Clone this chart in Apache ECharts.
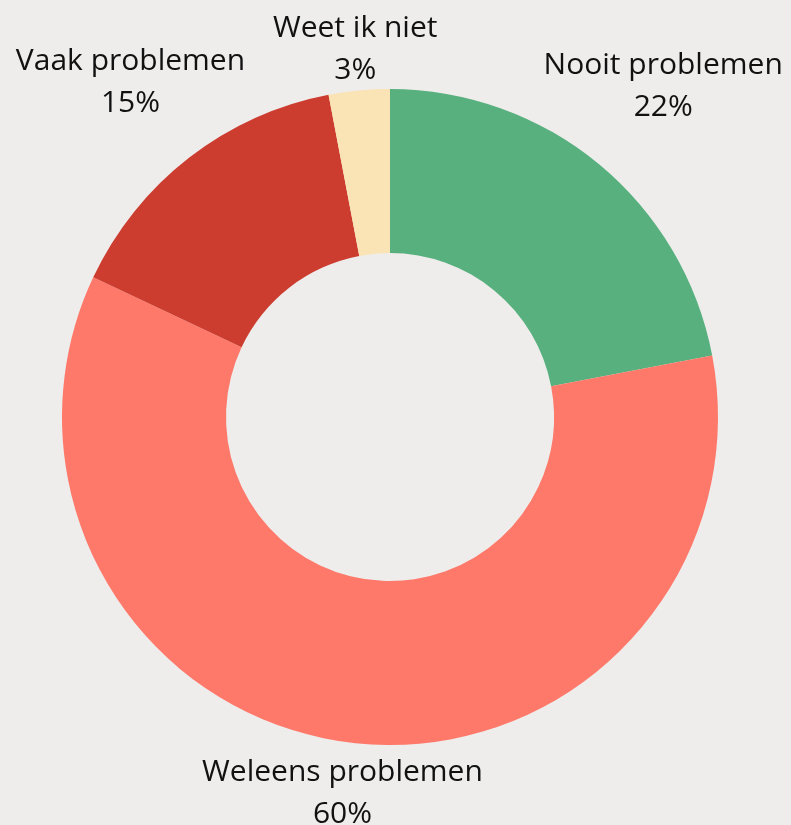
<!DOCTYPE html>
<html>
<head>
<meta charset="utf-8">
<script src="https://cdn.jsdelivr.net/npm/echarts@6/dist/echarts.min.js"></script>
<style>
  html, body { margin: 0; padding: 0; background: #eeedec; }
  #main { width: 791px; height: 825px; }
</style>
</head>
<body>
<div id="main"></div>
<script>
// antwoorden, met de klok mee vanaf boven
var categories = ['Nooit problemen', 'Weleens problemen', 'Vaak problemen', 'Weet ik niet'];
var percentages = [22, 60, 15, 3];
var colors = ['#58b07e', '#ff796a', '#cc3d2f', '#fae3b4'];

var cx = 390, cy = 417, rOuter = 328, rInner = 164;
var total = percentages.reduce(function (a, b) { return a + b; }, 0);

// middenhoek van elk stuk (graden, vanaf boven met de klok mee)
var midAngles = [];
var acc = 0;
percentages.forEach(function (v) {
  midAngles.push((acc + v / 2) / total * 360);
  acc += v;
});

var myChart = echarts.init(document.getElementById('main'));
var option = {
  backgroundColor: '#eeedec',
  textStyle: { fontFamily: 'Open Sans' },
  series: [{
    type: 'pie',
    center: [cx, cy],
    radius: [rInner, rOuter],
    startAngle: 90,
    clockwise: true,
    silent: true,
    label: {
      show: true,
      position: 'outside',
      formatter: '{b}\n{d}%',
      fontFamily: 'Open Sans',
      fontWeight: 400,
      fontSize: 30,
      lineHeight: 42,
      color: '#111111',
      align: 'center',
      overflow: 'none'
    },
    labelLine: { show: false },
    // label net buiten de ring, gecentreerd op de middenhoek
    labelLayout: function (params) {
      var a = midAngles[params.dataIndex] * Math.PI / 180;
      var ux = Math.sin(a), uy = -Math.cos(a);
      var w = params.labelRect.width / 2, h = params.labelRect.height / 2;
      var d = 320 + Math.abs(ux) * w + Math.abs(uy) * h;
      return {
        x: cx + ux * d,
        y: cy + uy * d,
        align: 'center',
        verticalAlign: 'middle'
      };
    },
    data: categories.map(function (c, i) {
      return { name: c, value: percentages[i], itemStyle: { color: colors[i] } };
    })
  }]
};
myChart.setOption(option);
</script>
</body>
</html>
